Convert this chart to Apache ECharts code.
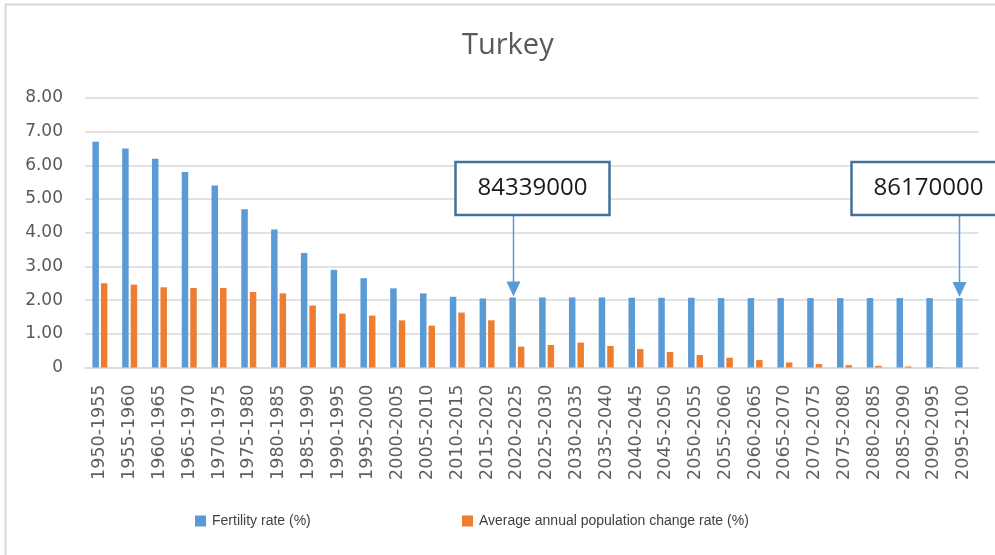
<!DOCTYPE html>
<html>
<head>
<meta charset="utf-8">
<title>Turkey</title>
<script src="https://cdn.jsdelivr.net/npm/echarts@6/dist/echarts.min.js"></script>
<style>
  html, body { margin: 0; padding: 0; background: #ffffff; }
  #chart { width: 995px; height: 555px; }
</style>
</head>
<body>
<div id="chart"></div>
<script>
// Five-year periods
const periods = [
  '1950-1955', '1955-1960', '1960-1965', '1965-1970', '1970-1975', '1975-1980',
  '1980-1985', '1985-1990', '1990-1995', '1995-2000', '2000-2005', '2005-2010',
  '2010-2015', '2015-2020', '2020-2025', '2025-2030', '2030-2035', '2035-2040',
  '2040-2045', '2045-2050', '2050-2055', '2055-2060', '2060-2065', '2065-2070',
  '2070-2075', '2075-2080', '2080-2085', '2085-2090', '2090-2095', '2095-2100'
];

// Fertility rate (%)
const fertilityRate = [
  6.70, 6.50, 6.20, 5.80, 5.40, 4.70, 4.10, 3.40, 2.90, 2.65,
  2.35, 2.20, 2.10, 2.05, 2.08, 2.08, 2.08, 2.08, 2.07, 2.07,
  2.07, 2.06, 2.06, 2.06, 2.06, 2.06, 2.06, 2.06, 2.06, 2.06
];

// Average annual population change rate (%)
const populationChange = [
  2.50, 2.46, 2.38, 2.36, 2.36, 2.24, 2.20, 1.84, 1.60, 1.54,
  1.40, 1.24, 1.63, 1.40, 0.62, 0.67, 0.74, 0.64, 0.55, 0.46,
  0.37, 0.29, 0.22, 0.15, 0.10, 0.07, 0.05, 0.03, 0.01, 0.00
];

// Y axis ticks
const yTicks = [0, 1, 2, 3, 4, 5, 6, 7, 8];

// Population callouts: period they point at and the population shown
const calloutPeriods = ['2020-2025', '2095-2100'];
const calloutLabels = ['84339000', '86170000'];

const seriesNames = ['Fertility rate (%)', 'Average annual population change rate (%)'];

const BLUE = '#5B9BD5';
const ORANGE = '#ED7D31';
const BAR_W = 6.5;
const BAR_GAP = 2;

const chart = echarts.init(document.getElementById('chart'), null, { renderer: 'canvas' });

const legendCommon = {
  top: 509,
  icon: 'rect',
  itemWidth: 11,
  itemHeight: 11,
  textStyle: {
    color: '#404040',
    fontSize: 14,
    fontFamily: 'Liberation Sans, Arial, sans-serif',
    padding: [0, 0, 0, 1]
  },
  selectedMode: false
};

chart.setOption({
  animation: false,
  backgroundColor: '#ffffff',
  title: {
    text: 'Turkey',
    left: 457,
    top: 26,
    textStyle: {
      color: '#595959',
      fontSize: 29,
      fontWeight: 'normal',
      fontFamily: 'Open Sans, Noto Sans, sans-serif'
    }
  },
  legend: [
    Object.assign({ left: 190, data: [seriesNames[0]] }, legendCommon),
    Object.assign({ left: 457, data: [seriesNames[1]] }, legendCommon)
  ],
  grid: {
    left: 85,
    right: 16.5,
    top: 98,
    bottom: 187.5,
    containLabel: false
  },
  xAxis: {
    type: 'category',
    data: periods,
    axisLine: { show: true, lineStyle: { color: '#d9d9d9', width: 1.5 } },
    axisTick: { show: false },
    axisLabel: {
      interval: 0,
      rotate: 90,
      margin: 17,
      color: '#5f5f5f',
      fontSize: 17.5,
      fontFamily: 'DejaVu Sans, sans-serif'
    }
  },
  yAxis: {
    type: 'value',
    min: yTicks[0],
    max: yTicks[yTicks.length - 1],
    interval: 1,
    axisLine: { show: false },
    axisTick: { show: false },
    splitLine: { lineStyle: { color: '#d9d9d9', width: 1.5 } },
    axisLabel: {
      margin: 22,
      color: '#595959',
      fontSize: 17,
      fontFamily: 'DejaVu Sans, sans-serif',
      formatter: v => (v === 0 ? '0' : v.toFixed(2))
    }
  },
  series: [
    {
      name: seriesNames[0],
      type: 'bar',
      data: fertilityRate,
      barWidth: BAR_W,
      barGap: (BAR_GAP / BAR_W * 100) + '%',
      itemStyle: { color: BLUE }
    },
    {
      name: seriesNames[1],
      type: 'bar',
      data: populationChange,
      barWidth: BAR_W,
      itemStyle: { color: ORANGE }
    }
  ]
});

// Chart frame plus callout boxes with arrows pointing at the fertility bars
function drawCallouts() {
  const elements = [
    { type: 'line', shape: { x1: 5, y1: 4.5, x2: 995, y2: 4.5 }, style: { stroke: '#d9d9d9', lineWidth: 2 }, silent: true },
    { type: 'line', shape: { x1: 5.5, y1: 4, x2: 5.5, y2: 555 }, style: { stroke: '#d9d9d9', lineWidth: 2 }, silent: true }
  ];
  const boxTop = 162;
  const boxH = 53;
  const boxW = 154;
  calloutPeriods.forEach((period, i) => {
    const idx = periods.indexOf(period);
    const pt = chart.convertToPixel({ xAxisIndex: 0, yAxisIndex: 0 }, [idx, fertilityRate[idx]]);
    // fertility bar sits left of the category centre
    const x = Math.round(pt[0] - (BAR_W + BAR_GAP) / 2) + 0.5;
    const tipY = pt[1] - 1;
    const boxLeft = i === 0 ? x - 58 : x - 108;
    elements.push(
      {
        type: 'line',
        shape: { x1: x, y1: boxTop + boxH, x2: x, y2: tipY - 13 },
        style: { stroke: BLUE, lineWidth: 1.5 },
        silent: true
      },
      {
        type: 'polygon',
        shape: { points: [[x - 7, tipY - 15], [x + 7, tipY - 15], [x, tipY]] },
        style: { fill: BLUE },
        silent: true
      },
      {
        type: 'rect',
        shape: { x: boxLeft, y: boxTop, width: boxW, height: boxH },
        style: { fill: '#ffffff', stroke: '#41719C', lineWidth: 2.5 },
        z: 10,
        silent: true
      },
      {
        type: 'text',
        x: boxLeft + boxW / 2,
        y: boxTop + boxH / 2,
        style: {
          text: calloutLabels[i],
          fill: '#1a1a1a',
          font: '24px "Open Sans", "Noto Sans", sans-serif',
          align: 'center',
          verticalAlign: 'middle'
        },
        z: 11,
        silent: true
      }
    );
  });
  chart.setOption({ graphic: { elements: elements } });
}

drawCallouts();
</script>
</body>
</html>
